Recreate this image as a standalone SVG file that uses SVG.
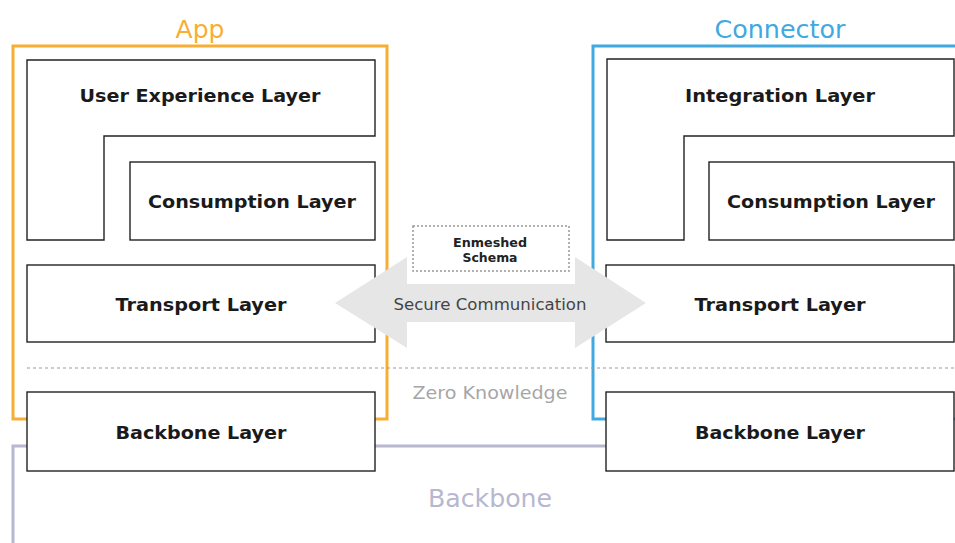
<svg xmlns="http://www.w3.org/2000/svg" width="955" height="543" viewBox="0 0 955 543">
<style>
.frame{fill:none;stroke-width:3}
.box{fill:#fff;stroke:#222;stroke-width:1.4}
.lbl{font-family:"DejaVu Sans",Verdana,sans-serif;font-weight:bold;font-size:18px;fill:#1a1a1a;text-anchor:middle}
.title{font-family:"DejaVu Sans",Verdana,sans-serif;font-size:25px;text-anchor:middle}
</style>
<rect width="955" height="543" fill="#fff"/>
<g id="app-frame">
<rect class="frame" x="13" y="46" width="374" height="373" stroke="#F8AE33"/>
<text class="title" x="200" y="38" fill="#F8AE33">App</text>
</g>
<g id="connector-frame">
<rect class="frame" x="593" y="46" width="400" height="373" stroke="#41A8E0"/>
<text class="title" x="780" y="38" fill="#41A8E0" textLength="131" lengthAdjust="spacingAndGlyphs">Connector</text>
</g>
<g id="connectors">
<path d="M13,543 V446 H606" fill="none" stroke="#B7B7CF" stroke-width="3"/>
<line x1="27" y1="368" x2="955" y2="368" stroke="#999" stroke-width="1" stroke-dasharray="3,3"/>
</g>
<g id="backbone-label">
<text class="title" x="490" y="507" fill="#B7B7CF" textLength="124" lengthAdjust="spacingAndGlyphs">Backbone</text>
</g>
<g id="zero-knowledge">
<text x="490" y="399" font-family="DejaVu Sans,Verdana,sans-serif" font-size="18.5" fill="#A6A6A6" text-anchor="middle" textLength="155" lengthAdjust="spacingAndGlyphs">Zero Knowledge</text>
</g>
<g id="ux-layer">
<path class="box" d="M27,60 H375 V136 H104 V240 H27 Z"/>
<text class="lbl" x="200" y="102" textLength="241" lengthAdjust="spacingAndGlyphs">User Experience Layer</text>
</g>
<g id="app-consumption">
<rect class="box" x="130" y="162" width="245" height="78"/>
<text class="lbl" x="252" y="208" textLength="208" lengthAdjust="spacingAndGlyphs">Consumption Layer</text>
</g>
<g id="app-transport">
<rect class="box" x="27" y="265" width="348" height="77"/>
<text class="lbl" x="201" y="311" textLength="171" lengthAdjust="spacingAndGlyphs">Transport Layer</text>
</g>
<g id="app-backbone">
<rect class="box" x="27" y="392" width="348" height="79"/>
<text class="lbl" x="201" y="439" textLength="171" lengthAdjust="spacingAndGlyphs">Backbone Layer</text>
</g>
<g id="integration-layer">
<path class="box" d="M607,59 H954 V136 H684 V240 H607 Z"/>
<text class="lbl" x="780" y="102" textLength="190" lengthAdjust="spacingAndGlyphs">Integration Layer</text>
</g>
<g id="conn-consumption">
<rect class="box" x="709" y="162" width="245" height="78"/>
<text class="lbl" x="831" y="208" textLength="208" lengthAdjust="spacingAndGlyphs">Consumption Layer</text>
</g>
<g id="conn-transport">
<rect class="box" x="606" y="265" width="348" height="77"/>
<text class="lbl" x="780" y="311" textLength="171" lengthAdjust="spacingAndGlyphs">Transport Layer</text>
</g>
<g id="conn-backbone">
<rect class="box" x="606" y="392" width="348" height="79"/>
<text class="lbl" x="780" y="439" textLength="170" lengthAdjust="spacingAndGlyphs">Backbone Layer</text>
</g>
<g id="secure-communication">
<polygon points="335,303 407,257 407,284 575,284 575,257 646,303 575,348 575,322 407,322 407,348" fill="#E6E6E6"/>
<text x="490" y="310" font-family="DejaVu Sans,Verdana,sans-serif" font-size="16.5" fill="#444" text-anchor="middle" textLength="193" lengthAdjust="spacingAndGlyphs">Secure Communication</text>
</g>
<g id="enmeshed-schema">
<rect x="413" y="226" width="156" height="45" fill="#fff" stroke="#999" stroke-width="1.5" stroke-dasharray="2,2"/>
<text x="490" y="247" font-family="DejaVu Sans,Verdana,sans-serif" font-weight="bold" font-size="12" fill="#222" text-anchor="middle" textLength="74" lengthAdjust="spacingAndGlyphs">Enmeshed</text>
<text x="490" y="262" font-family="DejaVu Sans,Verdana,sans-serif" font-weight="bold" font-size="12" fill="#222" text-anchor="middle" textLength="55" lengthAdjust="spacingAndGlyphs">Schema</text>
</g>
</svg>
